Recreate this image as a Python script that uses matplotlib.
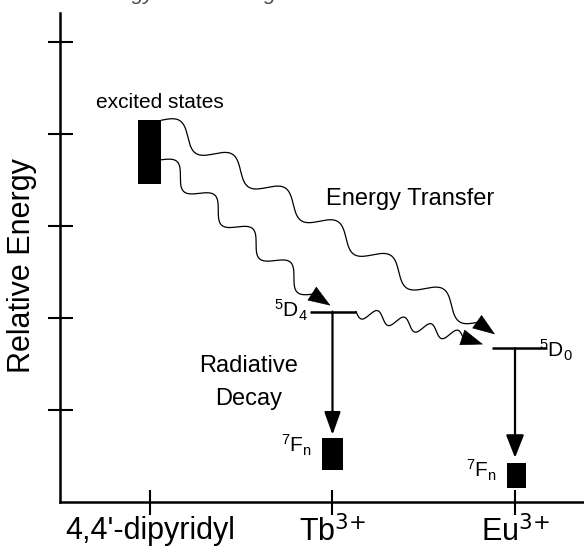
import numpy as np
import matplotlib
matplotlib.use('Agg')
import matplotlib.pyplot as plt

plt.rcParams['font.family'] = ['Liberation Sans', 'DejaVu Sans']
plt.rcParams['mathtext.default'] = 'regular'

# --- data (relative energy units) ---
species = ["4,4'-dipyridyl", r"Tb$^{\text{3+}}$", r"Eu$^{\text{3+}}$"]
species_x = [0, 1, 2]
energy_ticks = [1, 2, 3, 4, 5]

excited_band = [3.46, 4.15]      # ligand excited states (bottom, top)
transfer_from = [4.15, 3.72]     # where the two transfer paths leave the band
tb_5d4 = 2.07
eu_5d0 = 1.67
tb_7fn = [0.35, 0.70]
eu_7fn = [0.15, 0.42]

fig = plt.figure(figsize=(5.84, 5.5), dpi=100)
W, H = 584, 550
ax = fig.add_axes([60 / W, 48 / H, 524 / W, 489 / H])
ax.set_xlim(-0.493, 2.378)
ax.set_ylim(0, 5.315)

for s in ['top', 'right']:
    ax.spines[s].set_visible(False)
for s in ['left', 'bottom']:
    ax.spines[s].set_linewidth(1.8)

ax.set_xticks(species_x, species, fontsize=22)
ax.set_yticks(energy_ticks, [''] * len(energy_ticks))
ax.tick_params(axis='both', direction='inout', length=18, width=1.5)
ax.tick_params(axis='x', pad=1)

fig.text(22 / W, 1 - 266 / H, 'Relative Energy', rotation=90, fontsize=22,
         ha='center', va='center')
# caption cut off at the top of the original figure
fig.text(90 / W, 1 + 0.5 / H, 'energy transfer diagram', style='italic',
         fontsize=15, va='baseline', color='#444444')

# boxes: excited states and 7Fn manifolds
ax.bar(species_x[0], excited_band[1] - excited_band[0], bottom=excited_band[0],
       width=0.126, color='k')
ax.bar(species_x[1], tb_7fn[1] - tb_7fn[0], bottom=tb_7fn[0], width=0.12, color='k')
ax.bar(species_x[2] + 0.008, eu_7fn[1] - eu_7fn[0], bottom=eu_7fn[0], width=0.104,
       color='k')

# emitting levels
tb_span = (species_x[1] - 0.123, species_x[1] + 0.129)
eu_span = (species_x[2] - 0.126, species_x[2] + 0.175)
ax.hlines(tb_5d4, *tb_span, color='k', lw=1.8)
ax.hlines(eu_5d0, *eu_span, color='k', lw=1.8)

# radiative decay arrows
ax.annotate('', xy=(species_x[1], tb_7fn[1]), xytext=(species_x[1], tb_5d4),
            arrowprops=dict(arrowstyle='-|>,head_length=1.4,head_width=0.5',
                            mutation_scale=10, color='k', lw=1.6,
                            shrinkA=0, shrinkB=2))
ax.annotate('', xy=(species_x[2], eu_7fn[1]), xytext=(species_x[2], eu_5d0),
            arrowprops=dict(arrowstyle='-|>,head_length=1.4,head_width=0.55',
                            mutation_scale=10, color='k', lw=1.6,
                            shrinkA=0, shrinkB=4))

# wavy energy-transfer arrows (drawn in display space, then mapped back)
to_disp = ax.transData.transform
to_data = ax.transData.inverted().transform


def wavy(p0, p1, n, amp, num=400):
    p0, p1 = np.asarray(p0, float), np.asarray(p1, float)
    t = np.linspace(0, 1, num)
    d = p1 - p0
    normal = np.array([-d[1], d[0]]) / np.hypot(*d)
    return p0 + np.outer(t, d) + np.outer(amp * np.sin(2 * np.pi * n * t), normal)


def transfer(start, tip_anchor, tip_off, head_vec, n, amp):
    # offsets in pixels, y measured downward as in the picture
    p0 = to_disp(start)
    tip = to_disp(tip_anchor) + np.array([tip_off[0], -tip_off[1]])
    hv = np.array([head_vec[0], -head_vec[1]])
    base = tip - hv * 21 / np.hypot(*hv)
    pts = to_data(wavy(p0, base, n, amp))
    ax.plot(pts[:, 0], pts[:, 1], color='k', lw=0.9)
    ax.annotate('', xy=to_data(tip), xytext=to_data(base),
                arrowprops=dict(arrowstyle='-|>,head_length=1.5,head_width=0.55',
                                mutation_scale=10, fc='k', ec='k', lw=0.5,
                                shrinkA=0, shrinkB=0))


box_right = species_x[0] + 0.063
transfer((box_right, transfer_from[0]), (eu_span[0], eu_5d0), (3, -14), (17, 12), 6, 9.5)
transfer((box_right, transfer_from[1]), (species_x[1], tb_5d4), (-2, -6), (17, 11), 4, 9)
transfer((tb_span[1], tb_5d4), (eu_span[0], eu_5d0), (-9, -4), (21, 7), 4, -6)

# labels
ax.text(0.052, 4.28, 'excited states', fontsize=15, ha='center', va='baseline')
ax.text(0.964, 3.228, 'Energy Transfer', fontsize=17, ha='left', va='baseline')
ax.text(0.54, 1.413, 'Radiative', fontsize=17, ha='center', va='baseline')
ax.text(0.54, 1.05, 'Decay', fontsize=17, ha='center', va='baseline')
ax.text(0.866, 2.0, '$^{5}$D$_{4}$', fontsize=15, ha='right', va='baseline')
ax.text(2.13, 1.576, '$^{5}$D$_{0}$', fontsize=15, ha='left', va='baseline')
ax.text(0.888, 0.533, '$^{7}$F$_{n}$', fontsize=15, ha='right', va='baseline')
ax.text(1.90, 0.261, '$^{7}$F$_{n}$', fontsize=15, ha='right', va='baseline')

fig.savefig('out.png', dpi=100)
